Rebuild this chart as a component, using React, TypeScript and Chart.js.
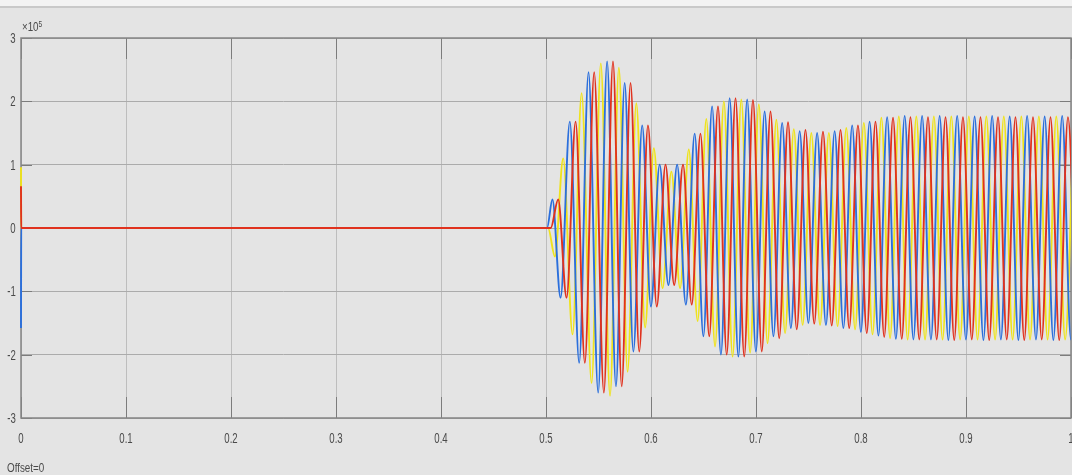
import React, { useEffect, useRef, useState } from "react";
import { Chart, registerables } from "chart.js";

Chart.register(...registerables);

// Axis ticks
const xTickLabels = ["0", "0.1", "0.2", "0.3", "0.4", "0.5", "0.6", "0.7", "0.8", "0.9", "1"];
const yTickLabels = ["3", "2", "1", "0", "-1", "-2", "-3"];
const exponentLabel = "5";
const offsetLabel = "Offset=0";

// Phase signals (values in units of 1e5), extrema
const yellowT = [
  0, 0.0002, 0.502, 0.5085, 0.5164, 0.5253, 0.5339, 0.5434, 0.5522,
  0.5610, 0.5694, 0.5777, 0.5860, 0.5944, 0.6027, 0.6110, 0.6194, 0.6277, 0.6360,
  0.6444, 0.6527, 0.6610, 0.6694, 0.6777, 0.6860, 0.6944, 0.7027, 0.7110, 0.7194,
  0.7277, 0.7360, 0.7444, 0.7527, 0.7610, 0.7694, 0.7777, 0.7860, 0.7944, 0.8027,
  0.8110, 0.8194, 0.8277, 0.8360, 0.8444, 0.8527, 0.8610, 0.8694, 0.8777, 0.8860,
  0.8944, 0.9027, 0.9110, 0.9194, 0.9277, 0.9360, 0.9444, 0.9527, 0.9610, 0.9694,
  0.9777, 0.9860, 0.9944, 1.0027,
];
const yellowV = [
  0.96, 0, 0, -0.45, 1.1, -1.68, 2.13, -2.45, 2.6,
  -2.65, 2.53, -2.27, 1.97, -1.57, 1.26, -0.95, 0.89, -0.95, 1.24,
  -1.47, 1.72, -1.87, 2.0, -2.03, 2.03, -1.97, 1.95, -1.82, 1.71,
  -1.66, 1.56, -1.53, 1.5, -1.53, 1.5, -1.55, 1.58, -1.6, 1.66,
  -1.68, 1.74, -1.74, 1.76, -1.76, 1.76, -1.76, 1.76, -1.76, 1.76,
  -1.76, 1.76, -1.76, 1.76, -1.76, 1.76, -1.76, 1.76, -1.76, 1.76,
  -1.76, 1.76, -1.76, 1.76,
];
const blueT = [
  0, 0.0002, 0.501, 0.5061, 0.5139, 0.5227, 0.5316, 0.5405, 0.5497,
  0.5582, 0.5666, 0.5749, 0.5832, 0.5916, 0.5999, 0.6082, 0.6166, 0.6249, 0.6332,
  0.6416, 0.6499, 0.6582, 0.6666, 0.6749, 0.6832, 0.6916, 0.6999, 0.7082, 0.7166,
  0.7249, 0.7332, 0.7416, 0.7499, 0.7582, 0.7666, 0.7749, 0.7832, 0.7916, 0.7999,
  0.8082, 0.8166, 0.8249, 0.8332, 0.8416, 0.8499, 0.8582, 0.8666, 0.8749, 0.8832,
  0.8916, 0.8999, 0.9082, 0.9166, 0.9249, 0.9332, 0.9416, 0.9499, 0.9582, 0.9666,
  0.9749, 0.9832, 0.9916, 0.9999, 1.0082,
];
const blueV = [
  -1.58, 0, 0, 0.45, -1.1, 1.68, -2.13, 2.46, -2.6,
  2.63, -2.5, 2.29, -1.95, 1.62, -1.24, 1.0, -0.9, 1.0, -1.21,
  1.49, -1.71, 1.92, -2.0, 2.05, -2.03, 2.03, -1.95, 1.84, -1.71,
  1.66, -1.58, 1.53, -1.5, 1.5, -1.53, 1.53, -1.58, 1.62, -1.64,
  1.68, -1.7, 1.75, -1.75, 1.77, -1.76, 1.77, -1.76, 1.77, -1.77,
  1.77, -1.76, 1.76, -1.77, 1.77, -1.76, 1.76, -1.77, 1.77, -1.76,
  1.76, -1.77, 1.77, -1.76, 1.76,
];
const redT = [
  0, 0.0002, 0.5045, 0.5116, 0.5196, 0.5282, 0.5370, 0.5459, 0.5551,
  0.5638, 0.5721, 0.5805, 0.5888, 0.5971, 0.6055, 0.6138, 0.6221, 0.6305, 0.6388,
  0.6471, 0.6555, 0.6638, 0.6721, 0.6805, 0.6888, 0.6971, 0.7055, 0.7138, 0.7221,
  0.7305, 0.7388, 0.7471, 0.7555, 0.7638, 0.7721, 0.7805, 0.7888, 0.7971, 0.8055,
  0.8138, 0.8221, 0.8305, 0.8388, 0.8471, 0.8555, 0.8638, 0.8721, 0.8805, 0.8888,
  0.8971, 0.9055, 0.9138, 0.9221, 0.9305, 0.9388, 0.9471, 0.9555, 0.9638, 0.9721,
  0.9805, 0.9888, 0.9971, 1.0055,
];
const redV = [
  0.66, 0, 0, 0.45, -1.1, 1.68, -2.13, 2.46, -2.6,
  2.63, -2.5, 2.29, -1.95, 1.62, -1.24, 1.0, -0.9, 1.0, -1.21,
  1.49, -1.71, 1.92, -2.0, 2.05, -2.03, 2.02, -1.95, 1.84, -1.74,
  1.67, -1.6, 1.55, -1.51, 1.52, -1.54, 1.55, -1.58, 1.62, -1.66,
  1.68, -1.72, 1.74, -1.75, 1.75, -1.76, 1.75, -1.76, 1.75, -1.77,
  1.75, -1.76, 1.75, -1.77, 1.75, -1.76, 1.75, -1.77, 1.75, -1.76,
  1.75, -1.77, 1.75, -1.76,
];

const FONT = "'Liberation Sans', Arial, sans-serif";
const TEXT = "#4a4a4a";

const toPoints = (t: number[], v: number[]) => t.map((x, i) => ({ x, y: v[i] }));

const framePlugin = {
  id: "scopeFrame",
  beforeDatasetsDraw(chart: any) {
    const { ctx, chartArea } = chart;
    const { left, right, top, bottom } = chartArea;
    const xs = chart.scales.x;
    const ys = chart.scales.y;
    ctx.save();
    ctx.strokeStyle = "#7c7c7c";
    ctx.lineWidth = 1;
    ctx.beginPath();
    xs.ticks.forEach((t: any) => {
      const px = Math.round(xs.getPixelForValue(t.value)) + 0.5;
      ctx.moveTo(px, top);
      ctx.lineTo(px, top + 21);
      ctx.moveTo(px, bottom);
      ctx.lineTo(px, bottom - 21);
    });
    ys.ticks.forEach((t: any) => {
      const py = Math.round(ys.getPixelForValue(t.value)) + 0.5;
      ctx.moveTo(left, py);
      ctx.lineTo(left + 11, py);
      ctx.moveTo(right, py);
      ctx.lineTo(right - 11, py);
    });
    ctx.stroke();
    ctx.strokeStyle = "#858585";
    ctx.lineWidth = 1.5;
    ctx.strokeRect(left, top, right - left, bottom - top);
    ctx.restore();
  },
};

type Pos = { xs: number[]; ys: number[] };

export default function App() {
  const canvasRef = useRef<HTMLCanvasElement | null>(null);
  const [pos, setPos] = useState<Pos>({ xs: [], ys: [] });

  useEffect(() => {
    if (!canvasRef.current) return;
    const common = {
      pointRadius: 0,
      borderWidth: 1.9,
      cubicInterpolationMode: "monotone" as const,
      fill: false,
      clip: { left: 1, top: 0, right: 0, bottom: 0 },
    };
    const chart = new Chart(canvasRef.current, {
      type: "line",
      data: {
        datasets: [
          { ...common, label: "C", data: toPoints(redT, redV), borderColor: "#e0321e" },
          { ...common, label: "B", data: toPoints(blueT, blueV), borderColor: "#2b6fdc" },
          { ...common, label: "A", data: toPoints(yellowT, yellowV), borderColor: "#efe31c" },
        ],
      },
      options: {
        animation: false,
        responsive: false,
        maintainAspectRatio: false,
        events: [],
        layout: { autoPadding: false, padding: { left: 0, top: 38, right: 1, bottom: 0 } },
        plugins: { legend: { display: false }, tooltip: { enabled: false } },
        scales: {
          x: {
            type: "linear",
            min: 0,
            max: 1,
            afterFit: (s: any) => { s.height = 57; },
            ticks: { stepSize: 0.1, display: false },
            grid: { color: "#bdbdbd", lineWidth: 1, drawTicks: false },
            border: { display: false },
          },
          y: {
            type: "linear",
            min: -3,
            max: 3,
            afterFit: (s: any) => { s.width = 21; },
            ticks: { stepSize: 1, display: false },
            grid: { color: "#ababab", lineWidth: 1, drawTicks: false },
            border: { display: false },
          },
        },
      },
      plugins: [framePlugin],
    });
    const xsScale: any = chart.scales.x;
    const ysScale: any = chart.scales.y;
    setPos({
      xs: xTickLabels.map((l) => xsScale.getPixelForValue(Number(l))),
      ys: yTickLabels.map((l) => ysScale.getPixelForValue(Number(l))),
    });
    return () => chart.destroy();
  }, []);

  const labelStyle: React.CSSProperties = {
    position: "absolute",
    fontSize: 15.5,
    lineHeight: "16px",
    color: TEXT,
    whiteSpace: "nowrap",
    fontFamily: FONT,
  };

  return (
    <div
      style={{
        position: "absolute",
        left: 0,
        top: 0,
        width: 1072,
        height: 475,
        background: "#e4e4e4",
        overflow: "hidden",
        fontFamily: FONT,
      }}
    >
      <div style={{ position: "absolute", left: 0, top: 0, width: 1072, height: 6, background: "#f3f3f3", borderBottom: "2px solid #c9c9c9" }} />
      <canvas ref={canvasRef} width={1072} height={475} style={{ position: "absolute", left: 0, top: 0 }} />
      {pos.xs.map((px, i) => (
        <div
          key={"x" + i}
          style={{
            ...labelStyle,
            left: px,
            top: 430,
            transform: "translateX(-50%) scaleX(0.62)",
            transformOrigin: "center top",
          }}
        >
          {xTickLabels[i]}
        </div>
      ))}
      {pos.ys.map((py, i) => (
        <div
          key={"y" + i}
          style={{
            ...labelStyle,
            right: 1072 - 16,
            top: py - 8,
            textAlign: "right",
            transform: "scaleX(0.62)",
            transformOrigin: "right top",
          }}
        >
          {yTickLabels[i]}
        </div>
      ))}
      <div
        style={{
          position: "absolute",
          left: 22,
          top: 21,
          fontSize: 12.5,
          color: TEXT,
          lineHeight: "13px",
          transform: "scaleX(0.78)",
          transformOrigin: "left top",
          whiteSpace: "nowrap",
        }}
      >
        ×10<sup style={{ fontSize: 8.5, verticalAlign: "top", position: "relative", top: -3 }}>{exponentLabel}</sup>
      </div>
      <div
        style={{
          position: "absolute",
          left: 7,
          top: 462,
          fontSize: 12,
          color: TEXT,
          lineHeight: "13px",
          transform: "scaleX(0.82)",
          transformOrigin: "left top",
          whiteSpace: "nowrap",
        }}
      >
        {offsetLabel}
      </div>
    </div>
  );
}
